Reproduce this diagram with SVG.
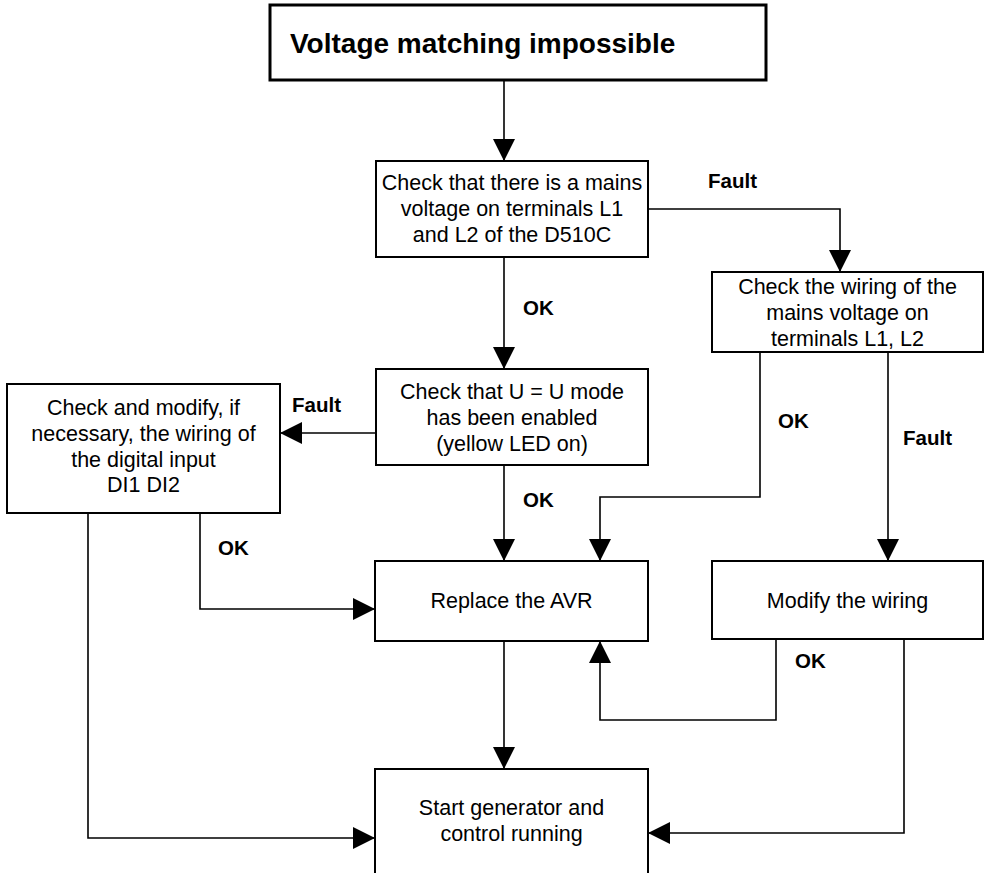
<svg xmlns="http://www.w3.org/2000/svg" width="987" height="873" viewBox="0 0 987 873">
<defs>
<style>
.box{fill:#fff;stroke:#000;stroke-width:2}
.title{fill:#fff;stroke:#000;stroke-width:3}
.t{font-family:"Liberation Sans",Arial,sans-serif;font-size:21.5px;fill:#000;text-anchor:middle}
.h{font-family:"Liberation Sans",Arial,sans-serif;font-size:28px;font-weight:bold;fill:#000}
.lbl{font-family:"Liberation Sans",Arial,sans-serif;font-size:20.5px;font-weight:bold;fill:#000}
.c{fill:none;stroke:#000;stroke-width:1.6;marker-end:url(#ah)}
.cn{fill:none;stroke:#000;stroke-width:1.6}
</style>
<marker id="ah" viewBox="0 0 22 22" refX="22" refY="11" markerWidth="22" markerHeight="22" markerUnits="userSpaceOnUse" orient="auto">
<path d="M0,0 L22,11 L0,22 Z" fill="#000"/>
</marker>
</defs>
<rect width="987" height="873" fill="#fff"/>

<g id="connectors">
<path class="c" d="M504,80 V161"/>
<path class="c" d="M648,209 H840 V272"/>
<path class="c" d="M504,257 V369"/>
<path class="c" d="M375,433 H280"/>
<path class="c" d="M504,465 V561"/>
<path class="c" d="M760,352 V497 H600 V561"/>
<path class="c" d="M888,352 V561"/>
<path class="c" d="M200,513 V609 H375"/>
<path class="c" d="M88,513 V838 H375"/>
<path class="c" d="M504,641 V769"/>
<path class="c" d="M776,639 V720 H600 V641"/>
<path class="c" d="M904,639 V833 H648"/>
<text class="lbl" x="708" y="188">Fault</text>
<text class="lbl" x="523" y="315">OK</text>
<text class="lbl" x="292" y="412">Fault</text>
<text class="lbl" x="523" y="507">OK</text>
<text class="lbl" x="778" y="428">OK</text>
<text class="lbl" x="903" y="445">Fault</text>
<text class="lbl" x="218" y="555">OK</text>
<text class="lbl" x="795" y="668">OK</text>
</g>

<g id="title">
<rect class="title" x="270" y="5" width="496" height="75"/>
<text class="h" x="290" y="53">Voltage matching impossible</text>
</g>

<g id="check-mains">
<rect class="box" x="376" y="161" width="272" height="96"/>
<text class="t" x="512" y="190">Check that there is a mains</text>
<text class="t" x="512" y="216">voltage on terminals L1</text>
<text class="t" x="512" y="242">and L2 of the D510C</text>
</g>

<g id="check-wiring">
<rect class="box" x="712" y="272" width="271" height="80"/>
<text class="t" x="847.5" y="294">Check the wiring of the</text>
<text class="t" x="847.5" y="320">mains voltage on</text>
<text class="t" x="847.5" y="345.5">terminals L1, L2</text>
</g>

<g id="check-mode">
<rect class="box" x="376" y="369" width="272" height="96"/>
<text class="t" x="512" y="398.5">Check that U = U mode</text>
<text class="t" x="512" y="424.5">has been enabled</text>
<text class="t" x="512" y="450.5">(yellow LED on)</text>
</g>

<g id="check-digital">
<rect class="box" x="7" y="384" width="273" height="129"/>
<text class="t" x="143.5" y="415">Check and modify, if</text>
<text class="t" x="143.5" y="441">necessary, the wiring of</text>
<text class="t" x="143.5" y="466.5">the digital input</text>
<text class="t" x="143.5" y="492">DI1 DI2</text>
</g>

<g id="replace-avr">
<rect class="box" x="375" y="561" width="273" height="80"/>
<text class="t" x="511.5" y="608">Replace the AVR</text>
</g>

<g id="modify-wiring">
<rect class="box" x="712" y="561" width="271" height="78"/>
<text class="t" x="847.5" y="608">Modify the wiring</text>
</g>

<g id="start-generator">
<rect class="box" x="375" y="769" width="273" height="120"/>
<text class="t" x="511.5" y="815">Start generator and</text>
<text class="t" x="511.5" y="841">control running</text>
</g>
</svg>
